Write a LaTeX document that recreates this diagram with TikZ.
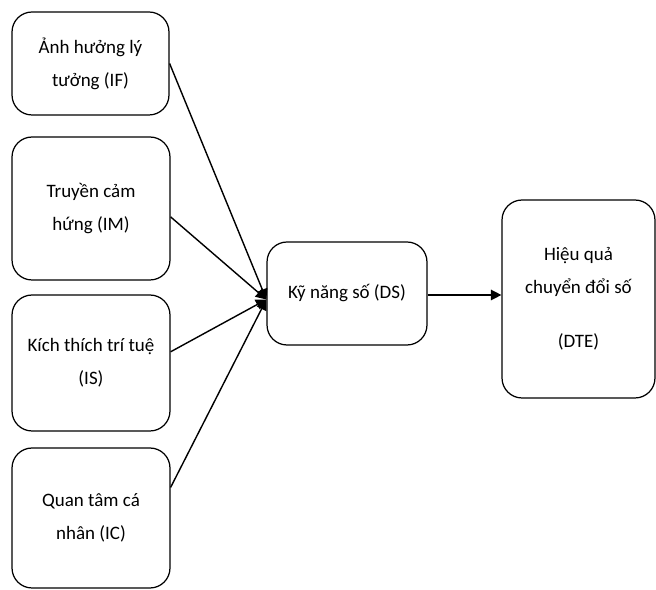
\documentclass[tikz,border=0pt]{standalone}
\usepackage{fontspec}
\setmainfont{Carlito}
\usetikzlibrary{arrows.meta}

\begin{document}
\begin{tikzpicture}[
    x=0.02cm, y=-0.02cm,
    box/.style={draw, rounded corners=0.4cm, line width=0.7pt, align=center,
        font=\fontsize{10.8}{18.8}\selectfont, inner sep=0pt},
    link/.style={line width=0.8pt, -{Triangle[length=6pt, width=6pt]}},
]
% Canvas in pixels of the reference: 656 x 590
\useasboundingbox (0,0) rectangle (656,590);

\def\xL{91}

% Left column: the four factors
\node[box, minimum width=3.14cm, minimum height=2.06cm] (IF) at (90.5, 63.5) {Ảnh hưởng lý\\tưởng (IF)};
\node[box, minimum width=3.16cm, minimum height=2.86cm] (IM) at (\xL, 208.5) {Truyền cảm\\hứng (IM)};
\node[box, minimum width=3.16cm, minimum height=2.72cm] (IS) at (\xL, 363) {Kích thích trí tuệ\\(IS)};
\node[box, minimum width=3.16cm, minimum height=2.80cm] (IC) at (\xL, 518) {Quan tâm cá\\nhân (IC)};

% Mediator and outcome
\node[box, minimum width=3.20cm, minimum height=2.06cm] (DS) at (347, 293.5) {Kỹ năng số (DS)};
\node[box, minimum width=3.06cm, minimum height=3.96cm] (DTE) at (578.5, 299) {Hiệu quả\\chuyển đổi số\\[12pt](DTE)};

\coordinate (hub) at ([yshift=-0.12cm]DS.west);

% Arrows
\draw[link] (IF.east) -- (hub);
\draw[link] (IM.-6) -- (hub);
\draw[link] (IS.8) -- (hub);
\draw[link] (IC.21) -- (hub);
\draw[link] ([yshift=-0.03cm]DS.east) -- ([yshift=-0.03cm]DS.east -| DTE.west);

\end{tikzpicture}
\end{document}
